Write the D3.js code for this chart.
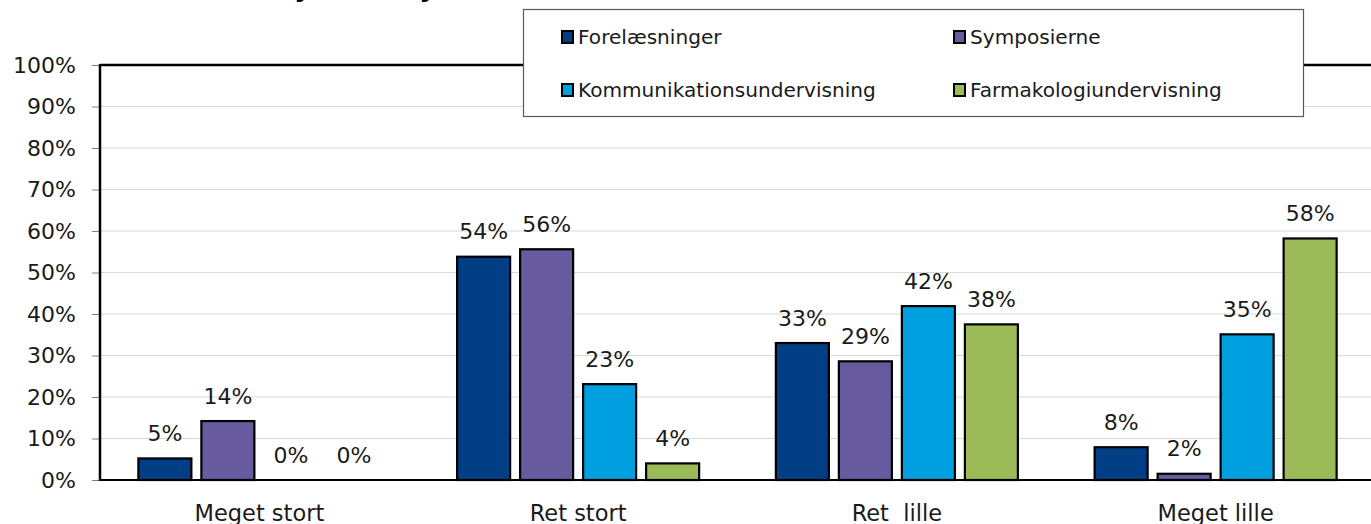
<!DOCTYPE html>
<html>
<head>
<meta charset="utf-8">
<script src="https://cdn.jsdelivr.net/npm/d3@7"></script>
<style>
  body { margin: 0; background: #fff; }
  svg { display: block; font-family: "DejaVu Sans", sans-serif; }
</style>
</head>
<body>
<div id="chart"></div>
<script>
// data
const categories = ["Meget stort", "Ret stort", "Ret  lille", "Meget lille"];
const series = ["Forelæsninger", "Symposierne", "Kommunikationsundervisning", "Farmakologiundervisning"];
const colors = ["#023e86", "#675a9e", "#009fe0", "#9bbb59"];
const forelaesninger = [5.2, 53.8, 33.0, 7.9];
const symposierne = [14.2, 55.6, 28.6, 1.5];
const kommunikation = [0, 23.1, 41.9, 35.1];
const farmakologi = [0, 4.0, 37.5, 58.2];
const yTicks = [0, 10, 20, 30, 40, 50, 60, 70, 80, 90, 100];

const values = [forelaesninger, symposierne, kommunikation, farmakologi];

const width = 1371, height = 524;
const margin = {top: 65, left: 100};
const plotRight = 1375, plotBottom = 480;

const svg = d3.select("#chart").append("svg")
    .attr("width", width)
    .attr("height", height);

// title, cut off at the top of the picture
svg.append("text")
    .attr("x", 236)
    .attr("y", -4)
    .attr("font-size", 26)
    .attr("font-weight", "bold")
    .attr("fill", "#000")
    .text("Udbytte af nytte");

const x0 = d3.scaleBand()
    .domain(categories)
    .range([margin.left, plotRight]);

const x1 = d3.scaleBand()
    .domain(series)
    .range([0, x0.bandwidth()])
    .paddingInner(10 / 63)
    .paddingOuter(0.609);

const y = d3.scaleLinear()
    .domain([0, 100])
    .range([plotBottom, margin.top]);

// gridlines
svg.append("g")
    .selectAll("line")
    .data(yTicks.filter(d => d > 0))
    .join("line")
    .attr("x1", margin.left)
    .attr("x2", plotRight)
    .attr("y1", d => y(d))
    .attr("y2", d => y(d))
    .attr("stroke", "#d9d9d9")
    .attr("stroke-width", 1);

// y axis
const yAxis = svg.append("g")
    .attr("transform", "translate(" + margin.left + ",0)")
    .call(d3.axisLeft(y).tickValues(yTicks).tickSize(8).tickPadding(16).tickFormat(d => d + "%"));
yAxis.select(".domain").remove();
yAxis.selectAll(".tick line").attr("stroke", "#808080");
yAxis.selectAll(".tick text")
    .attr("font-size", 22)
    .attr("font-family", "DejaVu Sans")
    .attr("fill", "#1a1a1a");

// bars
const groups = svg.append("g")
    .selectAll("g")
    .data(categories)
    .join("g")
    .attr("transform", d => "translate(" + x0(d) + ",0)");

groups.selectAll("rect")
    .data((c, ci) => series.map((s, si) => ({s: s, si: si, v: values[si][ci]})))
    .join("rect")
    .filter(d => d.v > 0)
    .attr("x", d => x1(d.s))
    .attr("width", x1.bandwidth())
    .attr("y", d => y(d.v))
    .attr("height", d => plotBottom - y(d.v))
    .attr("fill", d => colors[d.si])
    .attr("stroke", "#000")
    .attr("stroke-width", 2.2);

groups.selectAll("text")
    .data((c, ci) => series.map((s, si) => ({s: s, si: si, v: values[si][ci]})))
    .join("text")
    .attr("x", d => x1(d.s) + x1.bandwidth() / 2)
    .attr("y", d => y(d.v) - 17.5)
    .attr("text-anchor", "middle")
    .attr("font-size", 22)
    .attr("fill", "#1a1a1a")
    .text(d => Math.round(d.v) + "%");

// frame: left, top, bottom
svg.append("line")
    .attr("x1", margin.left).attr("x2", margin.left)
    .attr("y1", margin.top - 1).attr("y2", plotBottom + 1)
    .attr("stroke", "#000").attr("stroke-width", 2.5);
svg.append("line")
    .attr("x1", margin.left).attr("x2", plotRight)
    .attr("y1", margin.top).attr("y2", margin.top)
    .attr("stroke", "#000").attr("stroke-width", 2.5);
svg.append("line")
    .attr("x1", margin.left).attr("x2", plotRight)
    .attr("y1", plotBottom).attr("y2", plotBottom)
    .attr("stroke", "#000").attr("stroke-width", 2);

// category labels
svg.append("g")
    .selectAll("text")
    .data(categories)
    .join("text")
    .attr("x", d => x0(d) + x0.bandwidth() / 2)
    .attr("y", 521)
    .attr("text-anchor", "middle")
    .attr("font-size", 22.5)
    .attr("fill", "#1a1a1a")
    .style("white-space", "pre")
    .text(d => d);

// legend
const legend = svg.append("g");
legend.append("rect")
    .attr("x", 523.5).attr("y", 9.5)
    .attr("width", 780).attr("height", 107)
    .attr("fill", "#fff")
    .attr("stroke", "#595959")
    .attr("stroke-width", 1.2);

const legendPos = [[561, 30], [953, 30], [561, 83], [953, 83]];
const items = legend.selectAll("g.item")
    .data(series)
    .join("g")
    .attr("class", "item")
    .attr("transform", (d, i) => "translate(" + legendPos[i][0] + "," + legendPos[i][1] + ")");

items.append("rect")
    .attr("x", 1).attr("y", 1)
    .attr("width", 11).attr("height", 12)
    .attr("fill", (d, i) => colors[i])
    .attr("stroke", "#000")
    .attr("stroke-width", 2);

items.append("text")
    .attr("x", 17)
    .attr("y", 14)
    .attr("font-size", 20.1)
    .attr("fill", "#1a1a1a")
    .text(d => d);
</script>
</body>
</html>
